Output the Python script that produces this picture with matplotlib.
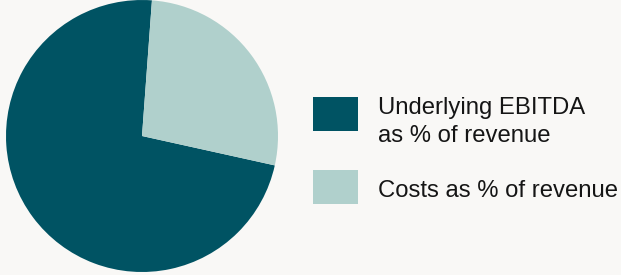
import matplotlib
matplotlib.use("Agg")
import matplotlib.pyplot as plt
from matplotlib.patches import Rectangle

labels = ["Underlying EBITDA\nas % of revenue", "Costs as % of revenue"]
values = [72.7, 27.3]
colors = ["#005363", "#b0d0cc"]
bg = "#f9f8f6"

W, H = 621, 275
fig = plt.figure(figsize=(W / 100, H / 100), dpi=100, facecolor=bg)
ax = fig.add_axes([6 / W, 1 - 272 / H, 272 / W, 272 / H])
ax.set_facecolor(bg)
wedges, _ = ax.pie(values, colors=colors, startangle=85.8, counterclock=True,
                   radius=1, wedgeprops=dict(linewidth=0))
ax.set_xlim(-1, 1)
ax.set_ylim(-1, 1)
ax.set_aspect("equal")
ax.axis("off")

# legend drawn manually in pixel-based figure coords
sq_x0, sq_w, sq_h = 313, 45, 34
sq_tops = [97, 170]
baselines = [[114, 142], [197]]
text_x = 378
for lab, col, top, bls in zip(labels, colors, sq_tops, baselines):
    fig.patches.append(Rectangle((sq_x0 / W, 1 - (top + sq_h) / H), sq_w / W, sq_h / H,
                                 transform=fig.transFigure, facecolor=col, edgecolor="none"))
    for line, bl in zip(lab.split("\n"), bls):
        fig.text(text_x / W, 1 - bl / H, line, fontsize=17.2, family="Liberation Sans",
                 color="#151515", va="baseline", ha="left")

fig.savefig("out.png", dpi=100, facecolor=bg)
